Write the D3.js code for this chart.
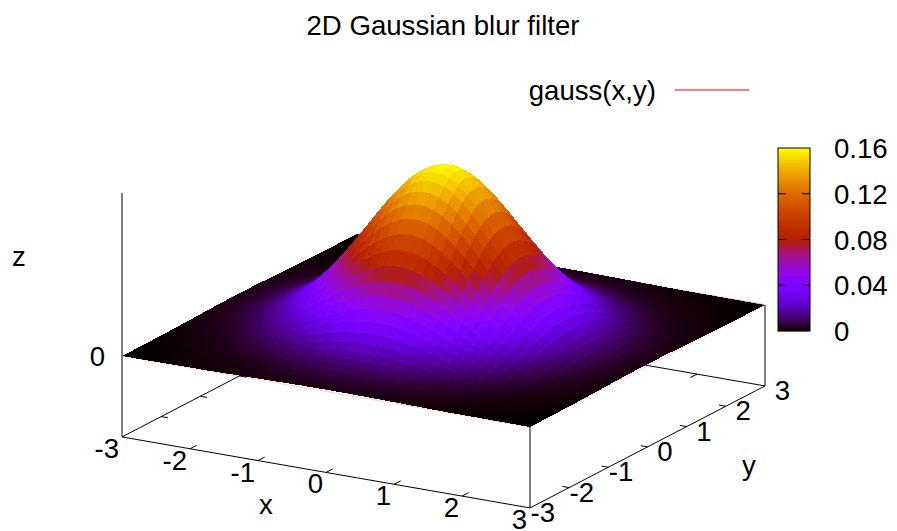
<!DOCTYPE html>
<html><head><meta charset="utf-8">
<script src="https://cdn.jsdelivr.net/npm/d3@7"></script>
<style>html,body{margin:0;padding:0;background:#fff}svg{display:block}text{font-family:"Liberation Sans",Arial,sans-serif;fill:#000}</style>
</head><body><svg id="c" width="897" height="531"></svg>
<script>
const xValues=[-3,-2.8667,-2.7333,-2.6,-2.4667,-2.3333,-2.2,-2.0667,-1.9333,-1.8,-1.6667,-1.5333,-1.4,-1.2667,-1.1333,-1,-0.8667,-0.7333,-0.6,-0.4667,-0.3333,-0.2,-0.0667,0.0667,0.2,0.3333,0.4667,0.6,0.7333,0.8667,1,1.1333,1.2667,1.4,1.5333,1.6667,1.8,1.9333,2.0667,2.2,2.3333,2.4667,2.6,2.7333,2.8667,3];
const yValues=[-3,-2.8667,-2.7333,-2.6,-2.4667,-2.3333,-2.2,-2.0667,-1.9333,-1.8,-1.6667,-1.5333,-1.4,-1.2667,-1.1333,-1,-0.8667,-0.7333,-0.6,-0.4667,-0.3333,-0.2,-0.0667,0.0667,0.2,0.3333,0.4667,0.6,0.7333,0.8667,1,1.1333,1.2667,1.4,1.5333,1.6667,1.8,1.9333,2.0667,2.2,2.3333,2.4667,2.6,2.7333,2.8667,3];
// surface heights in units of 0.0001, rows run along y, columns along x
const zRows=[
[0,0,0,1,1,1,2,2,3,3,4,5,7,8,9,11,12,13,15,16,17,17,18,18,17,17,16,15,13,12,11,9,8,7,5,4,3,3,2,2,1,1,1,0,0,0],
[0,0,1,1,1,2,2,3,4,5,6,8,10,12,14,16,18,20,22,23,25,26,26,26,26,25,23,22,20,18,16,14,12,10,8,6,5,4,3,2,2,1,1,1,0,0],
[0,1,1,1,2,2,3,4,6,7,9,12,14,17,20,23,26,29,32,34,36,37,38,38,37,36,34,32,29,26,23,20,17,14,12,9,7,6,4,3,2,2,1,1,1,0],
[1,1,1,2,3,4,5,6,8,11,13,17,20,24,28,33,37,41,45,49,51,53,54,54,53,51,49,45,41,37,33,28,24,20,17,13,11,8,6,5,4,3,2,1,1,1],
[1,1,2,3,4,5,7,9,12,15,19,23,28,34,40,46,52,58,63,68,72,74,76,76,74,72,68,63,58,52,46,40,34,28,23,19,15,12,9,7,5,4,3,2,1,1],
[1,2,2,4,5,7,9,12,16,21,26,32,39,47,55,63,72,80,87,94,99,103,104,104,103,99,94,87,80,72,63,55,47,39,32,26,21,16,12,9,7,5,4,2,2,1],
[2,2,3,5,7,9,13,17,22,28,35,44,53,63,74,86,97,108,118,127,134,139,141,141,139,134,127,118,108,97,86,74,63,53,44,35,28,22,17,13,9,7,5,3,2,2],
[2,3,4,6,9,12,17,22,29,37,47,58,71,84,99,114,129,144,157,169,178,184,188,188,184,178,169,157,144,129,114,99,84,71,58,47,37,29,22,17,12,9,6,4,3,2],
[3,4,6,8,12,16,22,29,38,49,61,76,92,110,129,149,169,188,205,220,232,241,245,245,241,232,220,205,188,169,149,129,110,92,76,61,49,38,29,22,16,12,8,6,4,3],
[3,5,7,11,15,21,28,37,49,62,79,97,118,141,166,191,216,241,263,282,298,309,314,314,309,298,282,263,241,216,191,166,141,118,97,79,62,49,37,28,21,15,11,7,5,3],
[4,6,9,13,19,26,35,47,61,79,99,122,149,178,209,241,273,303,331,356,375,389,396,396,389,375,356,331,303,273,241,209,178,149,122,99,79,61,47,35,26,19,13,9,6,4],
[5,8,12,17,23,32,44,58,76,97,122,152,184,220,258,298,337,375,410,440,465,481,490,490,481,465,440,410,375,337,298,258,220,184,152,122,97,76,58,44,32,23,17,12,8,5],
[7,10,14,20,28,39,53,71,92,118,149,184,224,268,314,362,410,456,499,536,565,586,596,596,586,565,536,499,456,410,362,314,268,224,184,149,118,92,71,53,39,28,20,14,10,7],
[8,12,17,24,34,47,63,84,110,141,178,220,268,320,375,433,490,545,596,640,675,699,712,712,699,675,640,596,545,490,433,375,320,268,220,178,141,110,84,63,47,34,24,17,12,8],
[9,14,20,28,40,55,74,99,129,166,209,258,314,375,440,508,575,640,699,751,792,821,835,835,821,792,751,699,640,575,508,440,375,314,258,209,166,129,99,74,55,40,28,20,14,9],
[11,16,23,33,46,63,86,114,149,191,241,298,362,433,508,585,663,738,806,866,913,946,963,963,946,913,866,806,738,663,585,508,433,362,298,241,191,149,114,86,63,46,33,23,16,11],
[12,18,26,37,52,72,97,129,169,216,273,337,410,490,575,663,751,835,913,980,1034,1072,1091,1091,1072,1034,980,913,835,751,663,575,490,410,337,273,216,169,129,97,72,52,37,26,18,12],
[13,20,29,41,58,80,108,144,188,241,303,375,456,545,640,738,835,929,1016,1091,1151,1192,1214,1214,1192,1151,1091,1016,929,835,738,640,545,456,375,303,241,188,144,108,80,58,41,29,20,13],
[15,22,32,45,63,87,118,157,205,263,331,410,499,596,699,806,913,1016,1110,1192,1258,1303,1326,1326,1303,1258,1192,1110,1016,913,806,699,596,499,410,331,263,205,157,118,87,63,45,32,22,15],
[16,23,34,49,68,94,127,169,220,282,356,440,536,640,751,866,980,1091,1192,1280,1350,1399,1424,1424,1399,1350,1280,1192,1091,980,866,751,640,536,440,356,282,220,169,127,94,68,49,34,23,16],
[17,25,36,51,72,99,134,178,232,298,375,465,565,675,792,913,1034,1151,1258,1350,1424,1476,1502,1502,1476,1424,1350,1258,1151,1034,913,792,675,565,465,375,298,232,178,134,99,72,51,36,25,17],
[17,26,37,53,74,103,139,184,241,309,389,481,586,699,821,946,1072,1192,1303,1399,1476,1529,1557,1557,1529,1476,1399,1303,1192,1072,946,821,699,586,481,389,309,241,184,139,103,74,53,37,26,17],
[18,26,38,54,76,104,141,188,245,314,396,490,596,712,835,963,1091,1214,1326,1424,1502,1557,1584,1584,1557,1502,1424,1326,1214,1091,963,835,712,596,490,396,314,245,188,141,104,76,54,38,26,18],
[18,26,38,54,76,104,141,188,245,314,396,490,596,712,835,963,1091,1214,1326,1424,1502,1557,1584,1584,1557,1502,1424,1326,1214,1091,963,835,712,596,490,396,314,245,188,141,104,76,54,38,26,18],
[17,26,37,53,74,103,139,184,241,309,389,481,586,699,821,946,1072,1192,1303,1399,1476,1529,1557,1557,1529,1476,1399,1303,1192,1072,946,821,699,586,481,389,309,241,184,139,103,74,53,37,26,17],
[17,25,36,51,72,99,134,178,232,298,375,465,565,675,792,913,1034,1151,1258,1350,1424,1476,1502,1502,1476,1424,1350,1258,1151,1034,913,792,675,565,465,375,298,232,178,134,99,72,51,36,25,17],
[16,23,34,49,68,94,127,169,220,282,356,440,536,640,751,866,980,1091,1192,1280,1350,1399,1424,1424,1399,1350,1280,1192,1091,980,866,751,640,536,440,356,282,220,169,127,94,68,49,34,23,16],
[15,22,32,45,63,87,118,157,205,263,331,410,499,596,699,806,913,1016,1110,1192,1258,1303,1326,1326,1303,1258,1192,1110,1016,913,806,699,596,499,410,331,263,205,157,118,87,63,45,32,22,15],
[13,20,29,41,58,80,108,144,188,241,303,375,456,545,640,738,835,929,1016,1091,1151,1192,1214,1214,1192,1151,1091,1016,929,835,738,640,545,456,375,303,241,188,144,108,80,58,41,29,20,13],
[12,18,26,37,52,72,97,129,169,216,273,337,410,490,575,663,751,835,913,980,1034,1072,1091,1091,1072,1034,980,913,835,751,663,575,490,410,337,273,216,169,129,97,72,52,37,26,18,12],
[11,16,23,33,46,63,86,114,149,191,241,298,362,433,508,585,663,738,806,866,913,946,963,963,946,913,866,806,738,663,585,508,433,362,298,241,191,149,114,86,63,46,33,23,16,11],
[9,14,20,28,40,55,74,99,129,166,209,258,314,375,440,508,575,640,699,751,792,821,835,835,821,792,751,699,640,575,508,440,375,314,258,209,166,129,99,74,55,40,28,20,14,9],
[8,12,17,24,34,47,63,84,110,141,178,220,268,320,375,433,490,545,596,640,675,699,712,712,699,675,640,596,545,490,433,375,320,268,220,178,141,110,84,63,47,34,24,17,12,8],
[7,10,14,20,28,39,53,71,92,118,149,184,224,268,314,362,410,456,499,536,565,586,596,596,586,565,536,499,456,410,362,314,268,224,184,149,118,92,71,53,39,28,20,14,10,7],
[5,8,12,17,23,32,44,58,76,97,122,152,184,220,258,298,337,375,410,440,465,481,490,490,481,465,440,410,375,337,298,258,220,184,152,122,97,76,58,44,32,23,17,12,8,5],
[4,6,9,13,19,26,35,47,61,79,99,122,149,178,209,241,273,303,331,356,375,389,396,396,389,375,356,331,303,273,241,209,178,149,122,99,79,61,47,35,26,19,13,9,6,4],
[3,5,7,11,15,21,28,37,49,62,79,97,118,141,166,191,216,241,263,282,298,309,314,314,309,298,282,263,241,216,191,166,141,118,97,79,62,49,37,28,21,15,11,7,5,3],
[3,4,6,8,12,16,22,29,38,49,61,76,92,110,129,149,169,188,205,220,232,241,245,245,241,232,220,205,188,169,149,129,110,92,76,61,49,38,29,22,16,12,8,6,4,3],
[2,3,4,6,9,12,17,22,29,37,47,58,71,84,99,114,129,144,157,169,178,184,188,188,184,178,169,157,144,129,114,99,84,71,58,47,37,29,22,17,12,9,6,4,3,2],
[2,2,3,5,7,9,13,17,22,28,35,44,53,63,74,86,97,108,118,127,134,139,141,141,139,134,127,118,108,97,86,74,63,53,44,35,28,22,17,13,9,7,5,3,2,2],
[1,2,2,4,5,7,9,12,16,21,26,32,39,47,55,63,72,80,87,94,99,103,104,104,103,99,94,87,80,72,63,55,47,39,32,26,21,16,12,9,7,5,4,2,2,1],
[1,1,2,3,4,5,7,9,12,15,19,23,28,34,40,46,52,58,63,68,72,74,76,76,74,72,68,63,58,52,46,40,34,28,23,19,15,12,9,7,5,4,3,2,1,1],
[1,1,1,2,3,4,5,6,8,11,13,17,20,24,28,33,37,41,45,49,51,53,54,54,53,51,49,45,41,37,33,28,24,20,17,13,11,8,6,5,4,3,2,1,1,1],
[0,1,1,1,2,2,3,4,6,7,9,12,14,17,20,23,26,29,32,34,36,37,38,38,37,36,34,32,29,26,23,20,17,14,12,9,7,6,4,3,2,2,1,1,1,0],
[0,0,1,1,1,2,2,3,4,5,6,8,10,12,14,16,18,20,22,23,25,26,26,26,26,25,23,22,20,18,16,14,12,10,8,6,5,4,3,2,2,1,1,1,0,0],
[0,0,0,1,1,1,2,2,3,3,4,5,7,8,9,11,12,13,15,16,17,17,18,18,17,17,16,15,13,12,11,9,8,7,5,4,3,3,2,2,1,1,1,0,0,0]
];
const xTicks=[-3,-2,-1,0,1,2,3];
const yTicks=[-3,-2,-1,0,1,2,3];
const zTicks=[0];
const cbTicks=[0,0.04,0.08,0.12,0.16];
const titleText="2D Gaussian blur filter";
const legendText="gauss(x,y)";

const FS=27.6;
const svg=d3.select("#c");
// oblique projection built from linear scales
const xToH=d3.scaleLinear().domain([-3,3]).range([0,408]);
const xToV=d3.scaleLinear().domain([-3,3]).range([0,71]);
const yToH=d3.scaleLinear().domain([-3,3]).range([0,235]);
const yToV=d3.scaleLinear().domain([-3,3]).range([0,-122]);
const zToV=d3.scaleLinear().domain([0,0.16]).range([0,-166]);
const zBase=-0.078, zTop=0.157;
const P=(x,y,z)=>[122+xToH(x)+yToH(y),356+xToV(x)+yToV(y)+zToV(z)];
const cbScale=d3.scaleLinear().domain([0,0.16]).range([331,148]);
const palette=t=>{t=Math.max(0,Math.min(1,t));
  const b=Math.max(0,Math.sin(2*Math.PI*t));
  return d3.rgb(255*Math.sqrt(t),255*t*t*t,255*b).formatHex();};
const color=d3.scaleSequential(palette).domain([0,0.16]);
const line=d3.line();
const seg=(g,a,b,c="#000",w=1,o=1)=>g.append("path").attr("d",line([a,b])).attr("fill","none").attr("stroke",c).attr("stroke-width",w).attr("stroke-opacity",o);

svg.append("text").attr("x",443).attr("y",35).attr("text-anchor","middle").attr("font-size",FS).text(titleText);

// base frame
const base=svg.append("g");
seg(base,P(-3,-3,zBase),P(3,-3,zBase));
seg(base,P(3,-3,zBase),P(3,3,zBase));
seg(base,P(3,3,zBase),P(-3,3,zBase));
seg(base,P(-3,3,zBase),P(-3,-3,zBase));
seg(base,P(-3,-3,zBase),P(-3,-3,zTop));
seg(base,P(3,-3,0),P(3,-3,zBase));
seg(base,P(3,3,0),P(3,3,zBase));
xTicks.forEach(x=>{
  if(x>-3&&x<3){
    seg(base,P(x,-3,zBase),P(x,-2.83,zBase));
    seg(base,P(x,3,zBase),P(x,2.83,zBase));
  }
  const p=P(x,-3,zBase);
  base.append("text").attr("x",p[0]-3).attr("y",p[1]+21).attr("text-anchor","end").attr("font-size",FS).text(x);
});
yTicks.forEach(y=>{
  if(y>-3&&y<3){
    seg(base,P(3,y,zBase),P(2.9,y,zBase));
    seg(base,P(-3,y,zBase),P(-2.9,y,zBase));
  }
  const p=P(3,y,zBase);
  base.append("text").attr("x",p[0]+25).attr("y",p[1]+14).attr("text-anchor","end").attr("font-size",FS).text(y);
});
zTicks.forEach(z=>{
  const p=P(-3,-3,z);
  base.append("text").attr("x",p[0]-17).attr("y",p[1]+10).attr("text-anchor","end").attr("font-size",FS).text(z);
});

// faint surface outline in the series line colour: back edges stronger, front edges barely visible
const outline=svg.append("g");
[[P(3,3,0),P(-3,3,0),0.6],[P(-3,3,0),P(-3,-3,0),0.25],[P(-3,-3,0),P(3,-3,0),0.2],[P(3,-3,0),P(3,3,0),0.2]]
  .forEach(s=>seg(outline,s[0],s[1],"#f00",1,s[2]));

// facets, far to near
const facets=[];
for(let j=0;j<yValues.length-1;j++)for(let i=0;i<xValues.length-1;i++){
  facets.push({i,j,d:xValues[i]-yValues[j]});
}
facets.sort((a,b)=>d3.ascending(a.d,b.d));
const zAt=(i,j)=>zRows[j][i]*1e-4;
svg.append("g").attr("shape-rendering","crispEdges").selectAll("path").data(facets).join("path")
  .attr("d",f=>{
    const {i,j}=f;
    return line([
      P(xValues[i],yValues[j],zAt(i,j)),
      P(xValues[i+1],yValues[j],zAt(i+1,j)),
      P(xValues[i+1],yValues[j+1],zAt(i+1,j+1)),
      P(xValues[i],yValues[j+1],zAt(i,j+1))])+"Z";
  })
  .attr("fill",f=>{
    const {i,j}=f;
    return color(d3.mean([zAt(i,j),zAt(i+1,j),zAt(i+1,j+1),zAt(i,j+1)]));
  });

// axis captions
svg.append("text").attr("x",19).attr("y",266).attr("text-anchor","middle").attr("font-size",FS).text("z");
svg.append("text").attr("x",266).attr("y",514).attr("text-anchor","middle").attr("font-size",FS).text("x");
svg.append("text").attr("x",749).attr("y",475).attr("text-anchor","middle").attr("font-size",FS).text("y");

// legend
svg.append("text").attr("x",656).attr("y",100).attr("text-anchor","end").attr("font-size",FS).text(legendText);
seg(svg,[675,90],[749,90],"#f00",1);

// colour box
const cb=svg.append("g");
const cbLevels=d3.range(0,183).map(k=>cbScale.invert(331-k-0.5));
cb.selectAll("rect").data(cbLevels).join("rect")
  .attr("x",778).attr("width",32)
  .attr("y",d=>cbScale(d)-0.5).attr("height",1.2)
  .attr("fill",d=>color(d));
cb.append("rect").attr("x",778).attr("y",148).attr("width",32).attr("height",183)
  .attr("fill","none").attr("stroke","#000");
cbTicks.slice(1,-1).forEach(t=>{
  seg(cb,[778,cbScale(t)],[786,cbScale(t)]);
  seg(cb,[802,cbScale(t)],[810,cbScale(t)]);
});
const cbAxis=svg.append("g").attr("transform","translate(810,0)")
  .call(d3.axisRight(cbScale).tickValues(cbTicks).tickFormat(d=>d).tickSize(0).tickPadding(24));
cbAxis.select(".domain").remove();
cbAxis.selectAll("text").attr("font-size",FS).attr("font-family",'"Liberation Sans"').attr("dy","0.35em");
</script></body></html>
